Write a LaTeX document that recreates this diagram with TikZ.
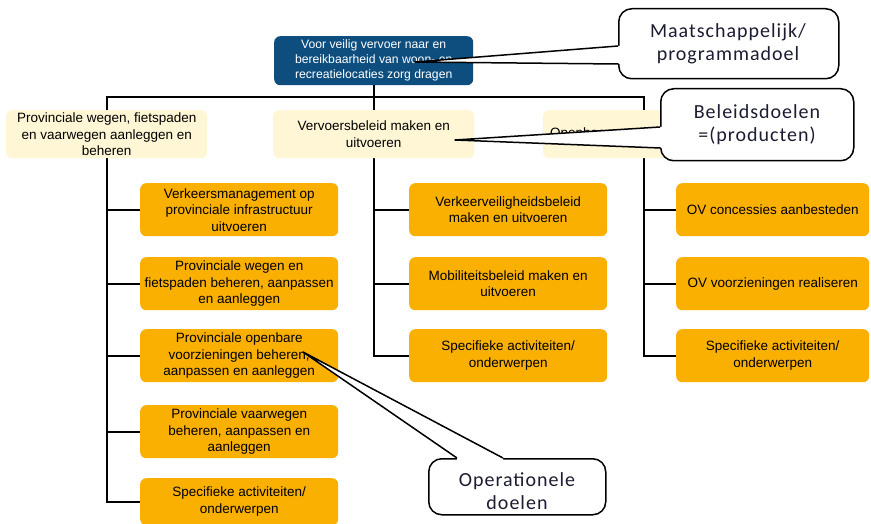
\documentclass[tikz,border=0pt]{standalone}
\usepackage{fontspec}
\setmainfont{Liberation Sans}
\newfontfamily\calfont[LetterSpace=5]{Carlito}
\usetikzlibrary{backgrounds}
\definecolor{dblue}{RGB}{14,78,126}
\definecolor{lyel}{RGB}{255,246,214}
\definecolor{orng}{RGB}{250,176,0}
\definecolor{ctxt}{RGB}{28,28,50}
\tikzset{
  box/.style={rounded corners=6pt, anchor=north west, align=center, inner sep=0.5pt,
    font=\fontsize{13.5}{16.5}\selectfont, text=black},
  obox/.style={box, fill=orng, minimum width=198pt, minimum height=53pt},
  ybox/.style={box, fill=lyel, minimum width=201pt, minimum height=48pt},
  tbox/.style={box, fill=dblue, text=white, minimum width=199pt, minimum height=49pt,
    font=\fontsize{12.2}{15}\selectfont},
  conn/.style={line width=1.8pt, draw=black},
  callout/.style={fill=white, draw=black, line width=1.5pt, rounded corners=13pt,
    anchor=north west, inner sep=0pt},
  ctext/.style={align=center, inner sep=0pt, text=ctxt,
    font=\calfont\fontsize{20}{23}\selectfont},
  wedge/.style={draw=black, line width=1.5pt, line join=round},
}
\begin{document}
\begin{tikzpicture}[x=1pt,y=-1pt]
\useasboundingbox (0,0) rectangle (871,524);

% level 1
\node[tbox] (top) at (274,36) {Voor veilig vervoer naar en\\bereikbaarheid van woon- en\\recreatielocaties zorg dragen};

% level 2
\node[ybox] (l2a) at (6,110) {Provinciale wegen, fietspaden\\en vaarwegen aanleggen en\\beheren};
\node[ybox] (l2b) at (273,110) {Vervoersbeleid maken en\\uitvoeren};
\node[ybox, text depth=3pt, text width=187pt, align=left] (l2c) at (543,110) {Openbaar vervoer};

% level 3, column 1
\node[obox] (a1) at (140,183) {Verkeersmanagement op\\provinciale infrastructuur\\uitvoeren};
\node[obox] (a2) at (140,257) {Provinciale wegen en\\fietspaden beheren, aanpassen\\en aanleggen};
\node[obox] (a3) at (140,329) {Provinciale openbare\\voorzieningen beheren,\\aanpassen en aanleggen};
\node[obox] (a4) at (140,405) {Provinciale vaarwegen\\beheren, aanpassen en\\aanleggen};
\node[obox, minimum height=47pt] (a5) at (140,478) {Specifieke activiteiten/\\onderwerpen};

% column 2
\node[obox] (b1) at (409,183) {Verkeerveiligheidsbeleid\\maken en uitvoeren};
\node[obox] (b2) at (409,257) {Mobiliteitsbeleid maken en\\uitvoeren};
\node[obox] (b3) at (409,329) {Specifieke activiteiten/\\onderwerpen};

% column 3
\node[obox, minimum width=193pt] (c1) at (676,183) {OV concessies aanbesteden};
\node[obox, minimum width=193pt] (c2) at (676,257) {OV voorzieningen realiseren};
\node[obox, minimum width=193pt] (c3) at (676,329) {Specifieke activiteiten/\\onderwerpen};

% connectors
\begin{pgfonlayer}{background}
\fill[white] (0,0) rectangle (871,524);
\coordinate (hy) at (0,97);
\draw[conn] (top.south) -- (l2b.north);
\draw[conn] (l2a.north) -- (l2a.north |- hy) -- (l2c.north |- hy) -- (l2c.north);
\draw[conn] (l2a.south) -- (l2a.south |- a5.west) -- (a5.west);
\foreach \n in {a1,a2,a3,a4} \draw[conn] (l2a.south |- \n.west) -- (\n.west);
\draw[conn] (l2b.south) -- (l2b.south |- b3.west) -- (b3.west);
\foreach \n in {b1,b2} \draw[conn] (l2b.south |- \n.west) -- (\n.west);
\draw[conn] (l2c.south) -- (l2c.south |- c3.west) -- (c3.west);
\foreach \n in {c1,c2} \draw[conn] (l2c.south |- \n.west) -- (\n.west);
\end{pgfonlayer}

% callout 1
\node[callout, minimum width=220pt, minimum height=70pt] (k1) at (618,8) {};
\node[ctext] (k1t) at (728,43.5) {Maatschappelijk/\\programmadoel};
\coordinate (t1) at (415,62);
\coordinate (p1) at (618,46);
\coordinate (q1) at (618.5,64);
\fill[white] (t1) -- (p1) -- (623,46) -- (623,64) -- (q1) -- cycle;
\draw[wedge] (p1) -- (t1) -- (q1);

% callout 2
\node[callout, minimum width=193pt, minimum height=72pt] (k2) at (660,88) {};
\node[ctext] (k2t) at (757,125) {Beleidsdoelen\\=(producten)};
\coordinate (t2) at (455,140);
\coordinate (p2) at (660,127);
\coordinate (q2) at (660.5,148);
\fill[white] (t2) -- (p2) -- (665,127) -- (665,148) -- (q2) -- cycle;
\draw[wedge] (p2) -- (t2) -- (q2);

% callout 3
\node[callout, minimum width=177pt, minimum height=56pt] (k3) at (428,458) {};
\node[ctext] (k3t) at (517,491) {Operationele\\doelen};
\coordinate (t3) at (303,352);
\coordinate (p3) at (457,458);
\coordinate (q3) at (503,458);
\fill[white] (t3) -- (p3) -- (457,463) -- (503,463) -- (q3) -- cycle;
\draw[wedge] (p3) -- (t3) -- (q3);
\end{tikzpicture}
\end{document}
